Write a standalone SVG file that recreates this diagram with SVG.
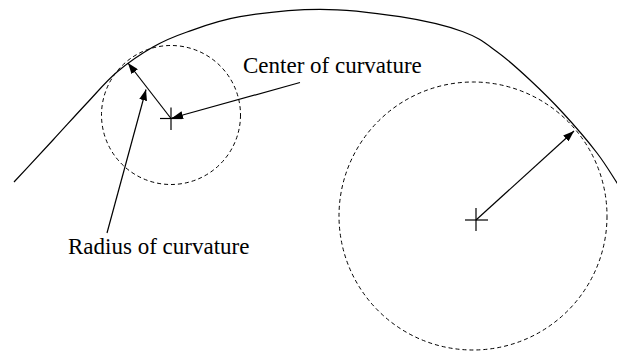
<svg xmlns="http://www.w3.org/2000/svg" width="617" height="355" viewBox="0 0 617 355">
<style>
.curve{fill:none;stroke:#000;stroke-width:1.2}
.dash{fill:none;stroke:#000;stroke-width:1;stroke-dasharray:4,3}
.cross{stroke:#000;stroke-width:1.2}
.conn{stroke:#000;stroke-width:1.2;fill:none;marker-end:url(#ah)}
.lbl{font-family:"Liberation Serif","Times New Roman",serif;font-size:23px;fill:#000}
</style>
<defs>
<marker id="ah" markerUnits="userSpaceOnUse" markerWidth="11" markerHeight="8" refX="11" refY="4" orient="auto">
<path d="M0,0 L11,4 L0,8 z" fill="#000"/>
</marker>
</defs>
<rect width="617" height="355" fill="#fff"/>
<g id="curve">
<path class="curve" d="M14,182 C27,168 40.83,153.17 53,140 C65.17,126.83 76.33,114.33 87,103 C97.67,91.67 106,81.33 117,72 C128,62.67 141.33,53.67 153,47 C164.67,40.33 172.5,37.05 187,32 C201.5,26.95 217.83,20.48 240,16.7 C262.17,12.92 293.33,9.3 320,9.3 C346.67,9.3 376.17,12.97 400,16.7 C423.83,20.43 446.83,25.87 463,31.7 C479.17,37.53 485.83,43.65 497,51.7 C508.17,59.75 519,69.78 530,80 C541,90.22 551.83,100.83 563,113 C574.17,125.17 587.67,140.83 597,153 C606.33,165.17 611.7,175 619,186"/>
</g>
<g id="circle-small">
<circle class="dash" cx="171" cy="115" r="69.5"/>
<line class="cross" x1="160" y1="118.5" x2="182" y2="118.5"/>
<line class="cross" x1="171" y1="107.5" x2="171" y2="130"/>
</g>
<g id="circle-large">
<circle class="dash" cx="473" cy="216" r="134"/>
<line class="cross" x1="465" y1="220" x2="488" y2="220"/>
<line class="cross" x1="476" y1="208" x2="476" y2="231"/>
</g>
<g id="label-center">
<text class="lbl" x="243" y="73">Center of curvature</text>
</g>
<g id="label-radius">
<text class="lbl" x="68" y="254">Radius of curvature</text>
</g>
<g id="connectors">
<line class="conn" x1="171" y1="118.5" x2="128" y2="63"/>
<line class="conn" x1="300" y1="82.5" x2="172" y2="118"/>
<line class="conn" x1="107" y1="233" x2="146" y2="89.5"/>
<line class="conn" x1="476" y1="220" x2="574" y2="131"/>
</g>
</svg>
